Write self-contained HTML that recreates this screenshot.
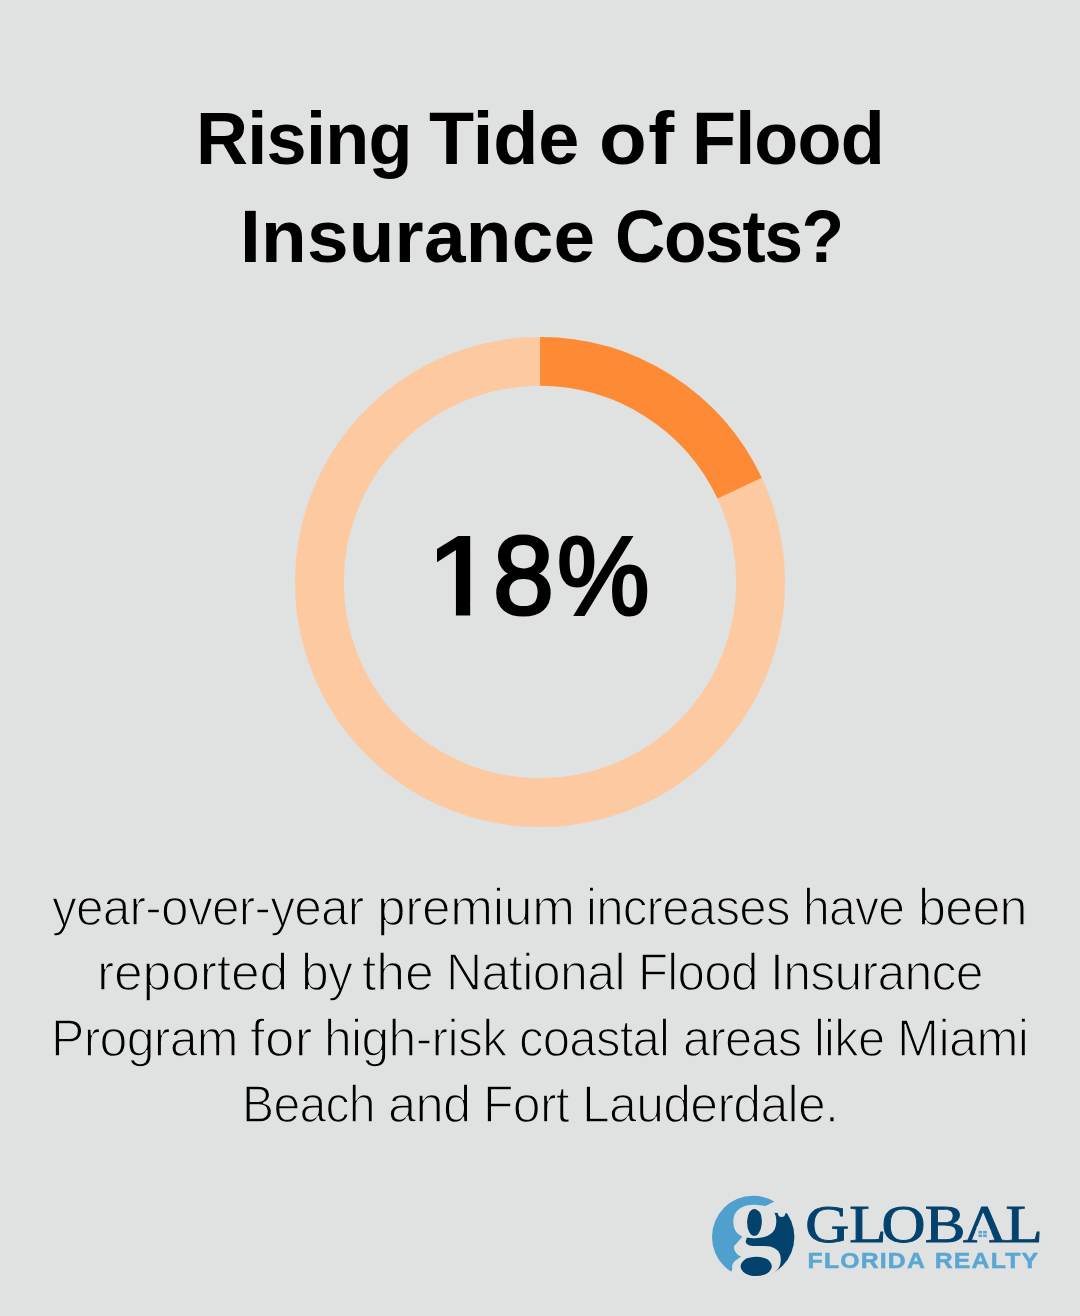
<!DOCTYPE html>
<html lang="en"><head><meta charset="utf-8">
<title>Rising Tide of Flood Insurance Costs?</title>
<style>
html,body{margin:0;padding:0}
body{width:1080px;height:1316px;background:#e0e1e1;position:relative;overflow:hidden;font-family:"Liberation Sans",sans-serif;color:#000}
.ln{display:block}
.w{display:inline-block;transform-origin:0 50%}
.title{position:absolute;left:0;width:1080px;top:89.6px;margin:0;text-align:left;font-weight:700;font-size:74px;line-height:98px;white-space:nowrap;word-spacing:0}
.num{position:absolute;left:0;width:1080px;top:496px;text-align:left;font-size:112px;line-height:160px;font-weight:400;white-space:nowrap;-webkit-text-stroke:3.2px #000}
.num span{display:inline-block;transform-origin:0 50%}
.body{position:absolute;left:0;width:1080px;top:874.5px;margin:0;text-align:left;font-size:52px;line-height:65.8px;font-weight:400;white-space:nowrap;word-spacing:0;-webkit-text-stroke:1.5px #e0e1e1}
.chart{position:absolute;left:0;top:0}
</style></head><body>
<h1 class="title">
<span class="ln t1"><span class="w" style="margin-left:196.20px;letter-spacing:-0.75px;transform:scaleX(0.9739)">Rising</span> <span class="w" style="margin-left:-9.36px;letter-spacing:-0.05px;transform:scaleX(0.9984)">Tide</span> <span class="w" style="margin-left:-0.77px;letter-spacing:1.50px;transform:scaleX(1.0556)">of</span> <span class="w" style="margin-left:-1.05px;letter-spacing:-0.85px;transform:scaleX(0.9731)">Flood</span></span>
<span class="ln t2"><span class="w" style="margin-left:240.12px;letter-spacing:0.27px;transform:scaleX(1.0093)">Insurance</span> <span class="w" style="margin-left:2.68px;letter-spacing:-1.50px;transform:scaleX(0.9415)">Costs?</span></span>
</h1>
<svg class="chart" width="1080" height="1316" viewBox="0 0 1080 1316">
<circle cx="540" cy="582" r="220.6" fill="none" stroke="#fdc9a1" stroke-width="48.8"/>
<circle cx="540" cy="582" r="220.6" fill="none" stroke="#fd8a35" stroke-width="48.8" stroke-dasharray="249.5 2000" transform="rotate(-90 540 582)"/>
</svg>
<div class="num"><span style="margin-left:427.11px;transform:scaleX(1.0889);clip-path:polygon(-5px -5px,70px -5px,70px 107.00px,39.66px 107.00px,39.66px 170px,26.56px 170px,26.56px 107.00px,-5px 107.00px)">1</span><span style="margin-left:3.91px;transform:scaleX(0.9775)">8</span><span style="margin-left:1.48px;transform:scaleX(0.9283)">%</span></div>
<p class="body">
<span class="ln b1"><span class="w" style="margin-left:52.23px;letter-spacing:-0.79px;transform:scaleX(0.9527)">year-over-year</span> <span class="w" style="margin-left:-16.78px;letter-spacing:-0.28px;transform:scaleX(0.9869)">premium</span> <span class="w" style="margin-left:-5.55px;letter-spacing:-0.80px;transform:scaleX(0.9460)">increases</span> <span class="w" style="margin-left:-12.72px;letter-spacing:-0.80px;transform:scaleX(0.9230)">have</span> <span class="w" style="margin-left:-9.49px;letter-spacing:-0.79px;transform:scaleX(0.9667)">been</span></span>
<span class="ln b2"><span class="w" style="margin-left:96.55px;letter-spacing:-0.14px;transform:scaleX(0.9923)">reported</span> <span class="w" style="margin-left:-3.04px;letter-spacing:-0.80px;transform:scaleX(0.9599)">by</span> <span class="w" style="margin-left:-5.83px;letter-spacing:-0.10px;transform:scaleX(0.9959)">the</span> <span class="w" style="margin-left:-3.08px;letter-spacing:-0.62px;transform:scaleX(0.9638)">National</span> <span class="w" style="margin-left:-8.03px;letter-spacing:-0.80px;transform:scaleX(0.9484)">Flood</span> <span class="w" style="margin-left:-8.28px;letter-spacing:-0.73px;transform:scaleX(0.9596)">Insurance</span></span>
<span class="ln b3"><span class="w" style="margin-left:50.87px;letter-spacing:-0.77px;transform:scaleX(0.9628)">Program</span> <span class="w" style="margin-left:-9.77px;letter-spacing:0.34px;transform:scaleX(1.0167)">for</span> <span class="w" style="margin-left:-1.31px;letter-spacing:-0.66px;transform:scaleX(0.9581)">high-risk</span> <span class="w" style="margin-left:-10.54px;letter-spacing:-0.80px;transform:scaleX(0.9441)">coastal</span> <span class="w" style="margin-left:-10.06px;letter-spacing:-0.80px;transform:scaleX(0.9397)">areas</span> <span class="w" style="margin-left:-8.74px;letter-spacing:-0.80px;transform:scaleX(0.9395)">like</span> <span class="w" style="margin-left:-6.58px;letter-spacing:-0.65px;transform:scaleX(0.9699)">Miami</span></span>
<span class="ln b4"><span class="w" style="margin-left:242.33px;letter-spacing:-0.80px;transform:scaleX(0.9262)">Beach</span> <span class="w" style="margin-left:-12.65px;letter-spacing:-0.71px;transform:scaleX(0.9733)">and</span> <span class="w" style="margin-left:-4.18px;letter-spacing:-0.74px;transform:scaleX(0.9616)">Fort</span> <span class="w" style="margin-left:-4.47px;letter-spacing:-0.70px;transform:scaleX(0.9595)">Lauderdale.</span></span>
</p>
<svg class="logo" width="1080" height="1316" viewBox="0 0 1080 1316" style="position:absolute;left:0;top:0">
<defs><clipPath id="gc"><circle cx="753.2" cy="1236.9" r="41.2"/></clipPath></defs>
<g clip-path="url(#gc)">
<g transform="translate(729.2,1255.1) scale(1.05,1.055) translate(-20,-60)">
<path fill="#4fa0cd" d="M66.5 10L58 17L45 16.3L33 17.5L30.5 29L33 41L33 46L29 52L29 56L32 61L29.2 64L19.7 79L10 90L-30 90L-30 -30L90 -30L80 0Z"/>
<g fill="#04426e">
<ellipse cx="44.3" cy="29" rx="10" ry="14"/>
<ellipse cx="45.2" cy="70.7" rx="16" ry="9.5"/>
<path d="M58 17L66.5 10L80 0L100 0L100 100L66 100L66 84L60 77.5L61.5 76L64 72L63.5 64L62 58L40 57L30 56L31 50L34 44.5L38 42L50 41.8L56 40L58 35L58 22Z"/>
</g>
</g>
</g>
<g transform="translate(729.2,1255.1) scale(1.05,1.055) translate(-20,-60)">
<text x="20" y="60" font-family="'Liberation Serif',serif" font-weight="700" font-size="100" fill="#e0e1e1">g</text>
</g>
<path fill="#e0e1e1" d="M768 1209.5L776 1203L785 1198L795 1198L795 1213.4L771.2 1212.7Z"/>
<circle cx="781.6" cy="1213.3" r="3.7" fill="#e0e1e1"/>
<g fill="#04426e" clip-path="url(#gc)">
<ellipse cx="754.3" cy="1222.4" rx="7.2" ry="13.4"/>
<ellipse cx="756.2" cy="1266.4" rx="15.6" ry="9.7"/>
</g>
<text transform="translate(0,1242) scale(1.15,1)" y="0" font-family="'Liberation Serif',serif" font-weight="400" font-size="53" fill="#04426e" stroke="#04426e" stroke-width="0.9" x="700.3 738.5 766.6 804.2 837.4 874.4">GLOBAL</text>
<path fill="#e0e1e1" d="M977 1226.2L989 1226.2L991.3 1231.6L975.4 1231.6Z"/>
<g fill="#5aa7d3">
<rect x="978.4" y="1230.9" width="3.7" height="2.6"/><rect x="983.1" y="1230.9" width="3.7" height="2.6"/>
<rect x="978.4" y="1234.5" width="3.7" height="2.6"/><rect x="983.1" y="1234.5" width="3.7" height="2.6"/>
</g>
<text transform="translate(809,1267.8) scale(1.1,1)" x="-1.3" y="0" font-family="'Liberation Sans',sans-serif" font-weight="700" font-size="22.5" letter-spacing="1.1" word-spacing="1.5" fill="#5aa7d3" stroke="#5aa7d3" stroke-width="0.5">FLORIDA REALTY</text>
</svg>

</body></html>
